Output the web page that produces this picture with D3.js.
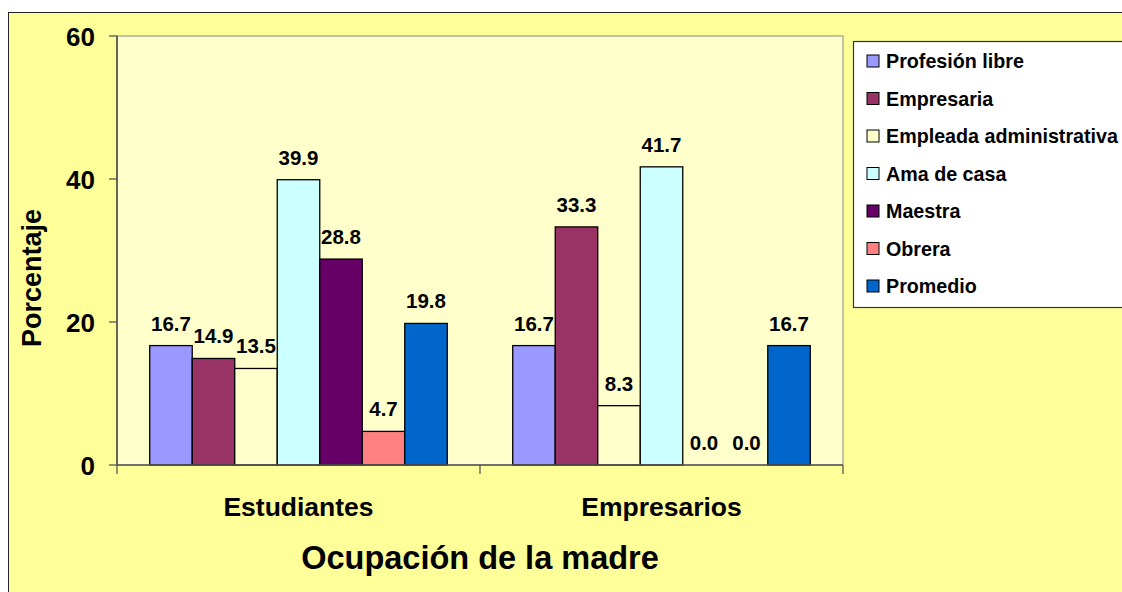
<!DOCTYPE html>
<html>
<head>
<meta charset="utf-8">
<script src="https://cdn.jsdelivr.net/npm/d3@7"></script>
<style>
  body { margin: 0; background: #fff; }
  svg { display: block; font-family: "Liberation Sans", Arial, sans-serif; font-weight: bold; }
</style>
</head>
<body>
<svg id="chart" width="1122" height="592"></svg>
<script>
// data
var categories = ['Estudiantes', 'Empresarios'];
var seriesNames = ['Profesión libre', 'Empresaria', 'Empleada administrativa',
                   'Ama de casa', 'Maestra', 'Obrera', 'Promedio'];
var seriesColors = ['#9999FF', '#993366', '#FFFFCC', '#CCFFFF', '#660066', '#FF8080', '#0066CC'];
var estudiantes = [16.7, 14.9, 13.5, 39.9, 28.8, 4.7, 19.8];
var empresarios = [16.7, 33.3, 8.3, 41.7, 0.0, 0.0, 16.7];
var yTicks = [0, 20, 40, 60];

var values = [estudiantes, empresarios];

var svg = d3.select('#chart');
var plot = { left: 117, top: 36, right: 843, bottom: 465 };

// chart area (runs off the right and bottom of the picture)
svg.append('rect')
    .attr('x', 8.5).attr('y', 12.5)
    .attr('width', 1200).attr('height', 700)
    .attr('fill', '#FFFF99').attr('stroke', '#222').attr('stroke-width', 1);

// plot area
svg.append('rect')
    .attr('x', plot.left).attr('y', plot.top)
    .attr('width', plot.right - plot.left).attr('height', plot.bottom - plot.top)
    .attr('fill', '#FFFFCC').attr('stroke', '#888').attr('stroke-width', 1);

var x0 = d3.scaleBand().domain(categories).range([plot.left, plot.right]).padding(0);
var x1 = d3.scaleBand().domain(seriesNames).range([0, x0.bandwidth()])
    .paddingInner(0).paddingOuter(0.77);
var y = d3.scaleLinear().domain([0, 60]).range([plot.bottom, plot.top]);
var fmt = d3.format('.1f');

// bars
categories.forEach(function(cat, ci) {
    var g = svg.append('g').attr('transform', 'translate(' + x0(cat) + ',0)');
    var rows = values[ci].map(function(v, si) { return { name: seriesNames[si], value: v, color: seriesColors[si] }; });
    g.selectAll('rect').data(rows.filter(function(d) { return d.value > 0; }))
        .enter().append('rect')
        .attr('x', function(d) { return x1(d.name); })
        .attr('y', function(d) { return y(d.value); })
        .attr('width', x1.bandwidth())
        .attr('height', function(d) { return y(0) - y(d.value); })
        .attr('fill', function(d) { return d.color; })
        .attr('stroke', '#000').attr('stroke-width', 1.3);
    g.selectAll('text').data(rows)
        .enter().append('text')
        .attr('x', function(d) { return x1(d.name) + x1.bandwidth() / 2; })
        .attr('y', function(d) { return y(d.value) - 15; })
        .attr('text-anchor', 'middle')
        .attr('font-size', 20.5)
        .text(function(d) { return fmt(d.value); });
});

// y axis
svg.append('line')
    .attr('x1', plot.left).attr('x2', plot.left)
    .attr('y1', plot.top).attr('y2', plot.bottom)
    .attr('stroke', '#333').attr('stroke-width', 1.3);
svg.selectAll('.ytick').data(yTicks).enter().append('line')
    .attr('x1', plot.left - 8).attr('x2', plot.left)
    .attr('y1', function(d) { return y(d); }).attr('y2', function(d) { return y(d); })
    .attr('stroke', '#555').attr('stroke-width', 1.3);
svg.selectAll('.ylab').data(yTicks).enter().append('text')
    .attr('x', 95).attr('y', function(d) { return y(d) + 10; })
    .attr('text-anchor', 'end').attr('font-size', 26)
    .text(function(d) { return d; });

// x axis
svg.append('line')
    .attr('x1', plot.left).attr('x2', plot.right)
    .attr('y1', plot.bottom).attr('y2', plot.bottom)
    .attr('stroke', '#555').attr('stroke-width', 1.5);
var xTickPos = categories.map(function(c) { return x0(c); }).concat([plot.right]);
svg.selectAll('.xtick').data(xTickPos).enter().append('line')
    .attr('x1', function(d) { return d; }).attr('x2', function(d) { return d; })
    .attr('y1', plot.bottom).attr('y2', plot.bottom + 9)
    .attr('stroke', '#555').attr('stroke-width', 1.3);
svg.selectAll('.xlab').data(categories).enter().append('text')
    .attr('x', function(d) { return x0(d) + x0.bandwidth() / 2; })
    .attr('y', 516)
    .attr('text-anchor', 'middle').attr('font-size', 26.5)
    .text(function(d) { return d; });

// axis titles
svg.append('text')
    .attr('x', (plot.left + plot.right) / 2).attr('y', 569)
    .attr('text-anchor', 'middle').attr('font-size', 32.5)
    .text('Ocupación de la madre');
svg.append('text')
    .attr('transform', 'translate(41,278) rotate(-90)')
    .attr('text-anchor', 'middle').attr('font-size', 27)
    .text('Porcentaje');

// legend
var legend = svg.append('g').attr('transform', 'translate(853,41)');
legend.append('rect')
    .attr('x', 0.5).attr('y', 0.5).attr('width', 400).attr('height', 266)
    .attr('fill', '#fff').attr('stroke', '#333').attr('stroke-width', 1.2);
var items = legend.selectAll('.item').data(seriesNames).enter().append('g')
    .attr('transform', function(d, i) { return 'translate(0,' + (20 + i * 37.5) + ')'; });
items.append('rect')
    .attr('x', 14).attr('y', -6).attr('width', 12).attr('height', 12)
    .attr('fill', function(d, i) { return seriesColors[i]; })
    .attr('stroke', '#000').attr('stroke-width', 1);
items.append('text')
    .attr('x', 33).attr('y', 7)
    .attr('font-size', 19.7)
    .text(function(d) { return d; });
</script>
</body>
</html>
